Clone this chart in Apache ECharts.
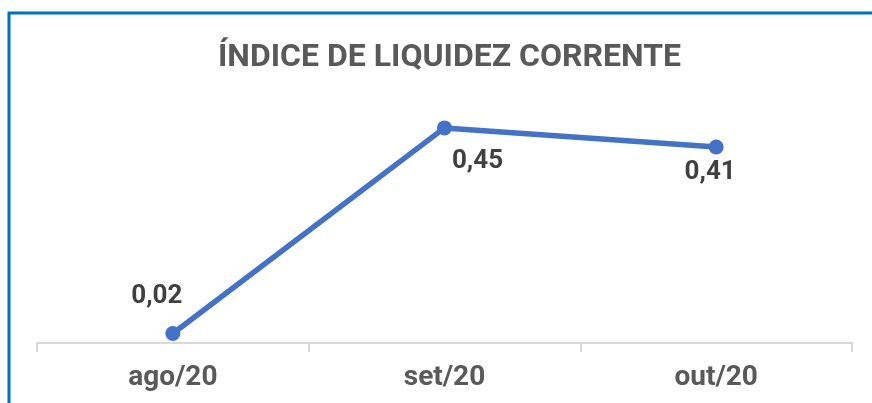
<!DOCTYPE html>
<html><head><meta charset="utf-8">
<script src="https://cdn.jsdelivr.net/npm/echarts@6/dist/echarts.min.js"></script>
<style>html,body{margin:0;padding:0;background:#fff}#c{width:872px;height:403px}</style>
</head><body><div id="c"></div>
<script>
const titleText = 'ÍNDICE DE LIQUIDEZ CORRENTE';
const categories = ['ago/20', 'set/20', 'out/20'];
const values = [0.02, 0.45, 0.41];
const labelOffsets = [[-16, -37], [33, 34], [-6, 25]];

const FONT = 'Roboto';
const chart = echarts.init(document.getElementById('c'), null, {renderer: 'canvas'});
chart.setOption({
  animation: false,
  backgroundColor: '#fff',
  title: {
    text: titleText, left: 213, top: 37,
    textStyle: {fontFamily: FONT, fontWeight: 'bold', fontSize: 32, color: '#595959'}
  },
  graphic: [{
    type: 'rect', shape: {x: 9, y: 13, width: 1000, height: 600},
    style: {fill: 'none', stroke: '#0070C0', lineWidth: 3}, silent: true
  }],
  grid: {left: 37, right: 20, top: 104, bottom: 60},
  xAxis: {
    type: 'category', data: categories, boundaryGap: true,
    axisLine: {lineStyle: {color: '#d9d9d9', width: 2}},
    axisTick: {show: true, length: 9, lineStyle: {color: '#d9d9d9', width: 2}},
    axisLabel: {fontFamily: FONT, fontWeight: 'bold', fontSize: 28, color: '#595959', margin: 21}
  },
  yAxis: {
    type: 'value', min: 0, max: 0.5, show: false, splitLine: {show: false}
  },
  series: [{
    type: 'line',
    data: values.map((v, i) => ({
      value: v,
      label: {offset: labelOffsets[i]}
    })),
    symbol: 'circle', symbolSize: 15,
    lineStyle: {color: '#4472C4', width: 5.5},
    itemStyle: {color: '#4472C4'},
    label: {
      show: true, position: 'inside',
      formatter: p => p.value.toFixed(2).replace('.', ','),
      fontFamily: FONT, fontWeight: 'bold', fontSize: 26, color: '#404040'
    }
  }]
});
</script></body></html>
